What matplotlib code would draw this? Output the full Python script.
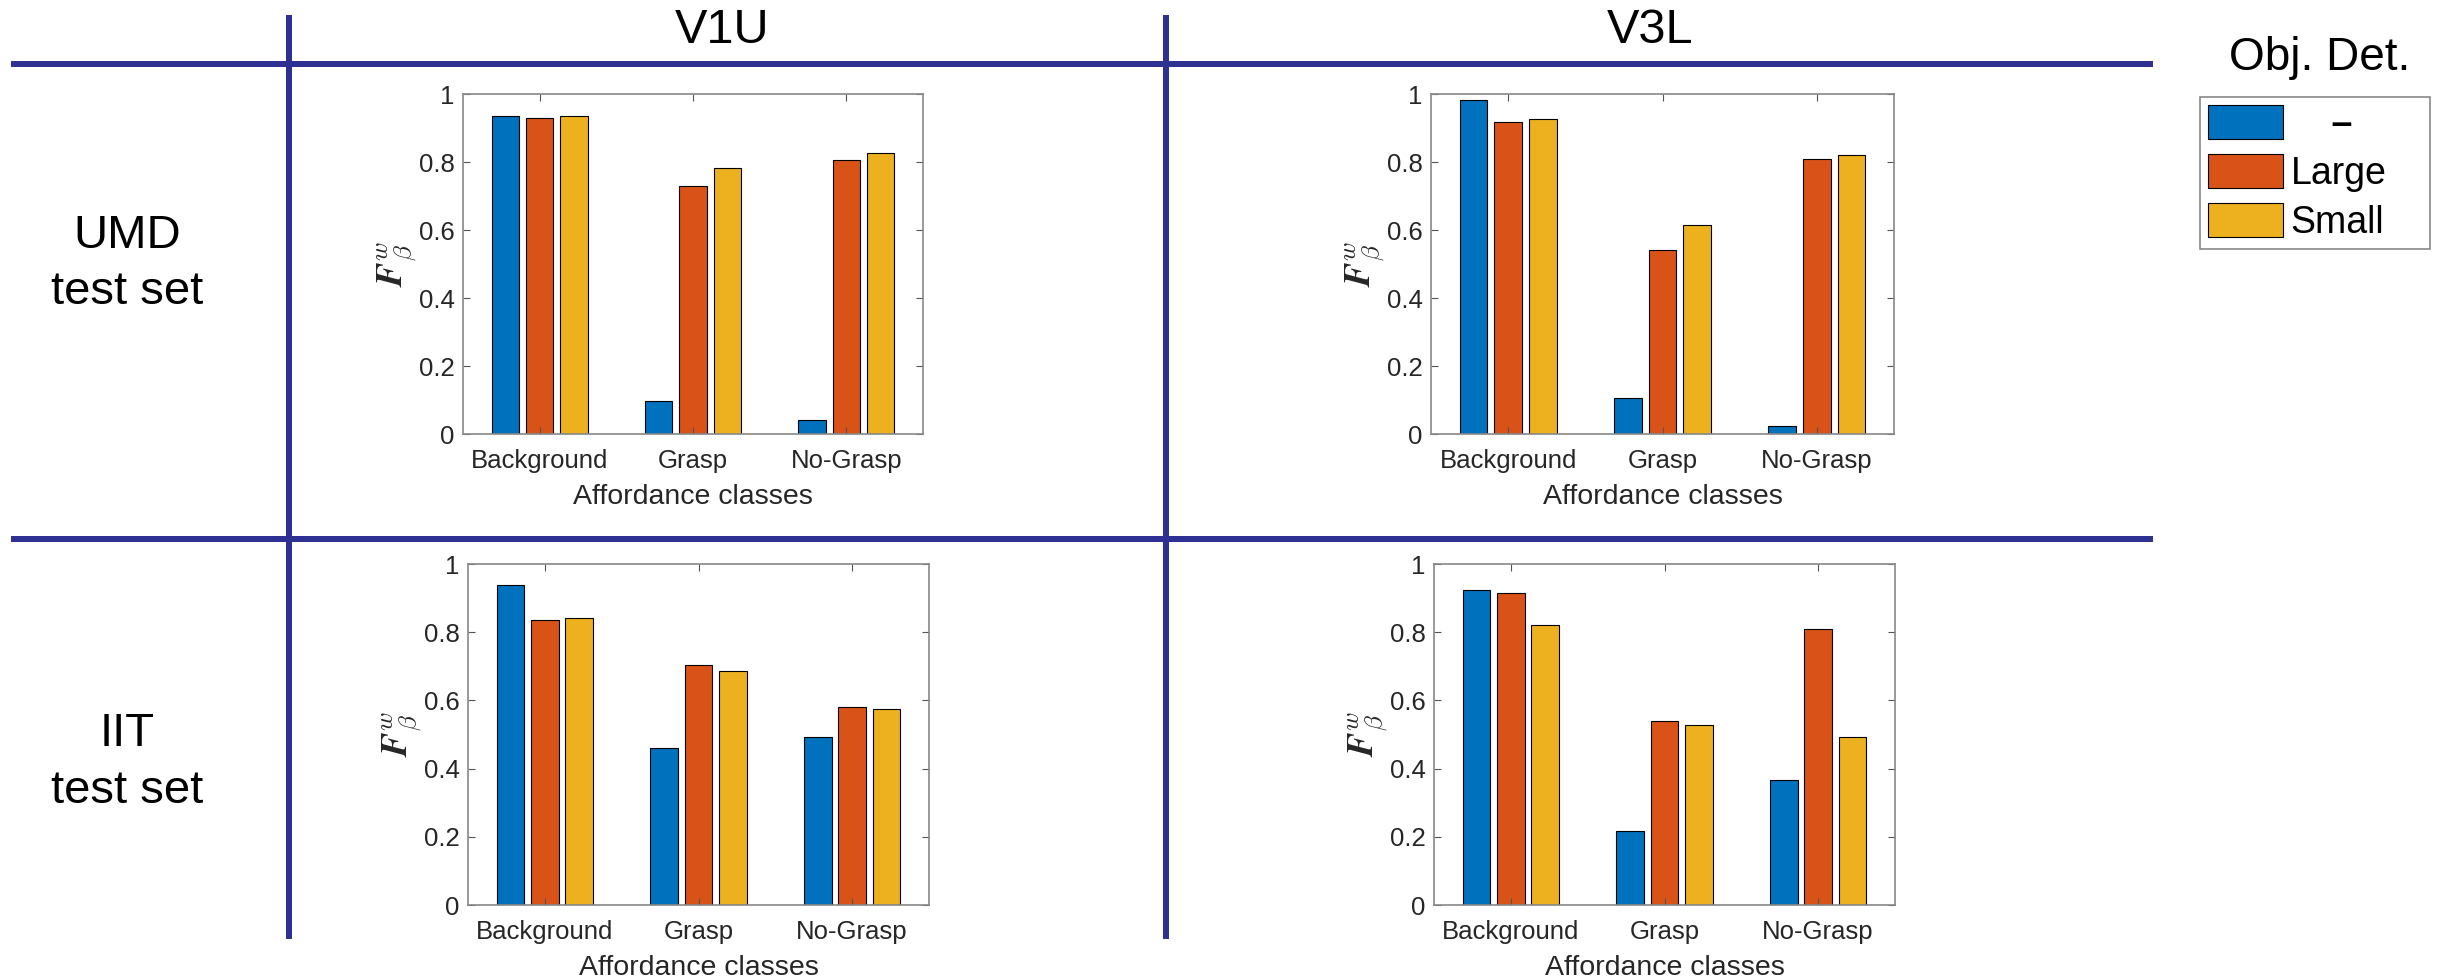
import matplotlib
matplotlib.use('Agg')
import matplotlib.pyplot as plt
from matplotlib.lines import Line2D
import numpy as np

plt.rcParams['font.family'] = ['Liberation Sans', 'DejaVu Sans']
plt.rcParams['mathtext.fontset'] = 'cm'

classes = ['Background', 'Grasp', 'No-Grasp']
detectors = ['–', 'Large', 'Small']
columns = ['V1U', 'V3L']
rows = ['UMD', 'IIT']

# F_beta^w per class, for each detector setting
v1u_umd_none = [0.936, 0.096, 0.042]
v1u_umd_large = [0.928, 0.728, 0.807]
v1u_umd_small = [0.936, 0.782, 0.825]

v3l_umd_none = [0.982, 0.106, 0.023]
v3l_umd_large = [0.917, 0.540, 0.809]
v3l_umd_small = [0.926, 0.614, 0.820]

v1u_iit_none = [0.937, 0.461, 0.492]
v1u_iit_large = [0.836, 0.705, 0.580]
v1u_iit_small = [0.841, 0.686, 0.574]

v3l_iit_none = [0.923, 0.216, 0.366]
v3l_iit_large = [0.915, 0.540, 0.808]
v3l_iit_small = [0.821, 0.527, 0.492]

panels = {
    ('UMD', 'V1U'): [v1u_umd_none, v1u_umd_large, v1u_umd_small],
    ('UMD', 'V3L'): [v3l_umd_none, v3l_umd_large, v3l_umd_small],
    ('IIT', 'V1U'): [v1u_iit_none, v1u_iit_large, v1u_iit_small],
    ('IIT', 'V3L'): [v3l_iit_none, v3l_iit_large, v3l_iit_small],
}

colors = ['#0072BD', '#D95319', '#EDB120']
grid_color = '#2E3192'
W, H = 2440, 980

fig = plt.figure(figsize=(W / 100, H / 100), dpi=100)


def px_box(left, top, right, bottom):
    return [left / W, 1 - bottom / H, (right - left) / W, (bottom - top) / H]


boxes = {
    ('UMD', 'V1U'): px_box(463, 94, 923, 434),
    ('UMD', 'V3L'): px_box(1431, 94, 1894, 434),
    ('IIT', 'V1U'): px_box(468, 564, 929, 905),
    ('IIT', 'V3L'): px_box(1434, 564, 1895, 905),
}

x = np.arange(1, len(classes) + 1)
offset = 0.224
width = 0.18
bars = None

for key, series in panels.items():
    ax = fig.add_axes(boxes[key])
    bars = []
    for i, vals in enumerate(series):
        b = ax.bar(x + (i - 1) * offset, vals, width, color=colors[i],
                   edgecolor='black', linewidth=0.8, label=detectors[i])
        bars.append(b)
    ax.set_xlim(0.5, 3.5)
    ax.set_ylim(0, 1)
    ax.set_xticks(x)
    ax.set_xticklabels(classes)
    ax.set_yticks([0, 0.2, 0.4, 0.6, 0.8, 1])
    ax.set_yticklabels(['0', '0.2', '0.4', '0.6', '0.8', '1'])
    ax.tick_params(direction='in', top=True, right=True, length=5,
                   width=0.8, color='#555555', labelsize=18.5,
                   labelcolor='#262626')
    ax.tick_params(axis='x', pad=11)
    ax.tick_params(axis='y', pad=6)
    for s in ax.spines.values():
        s.set_color('#888888')
        s.set_linewidth(1.2)
    ax.set_xlabel('Affordance classes', fontsize=20.5, color='#262626', labelpad=8)
    ax.set_ylabel(r'$\mathbfit{F}^{w}_{\beta}$', fontsize=26, color='#262626',
                  labelpad=0)

# table grid lines
lw = 6 * 72 / 100
for y in [64, 539]:
    fig.add_artist(Line2D([11 / W, 2153 / W], [1 - y / H, 1 - y / H],
                          color=grid_color, lw=lw, solid_capstyle='butt'))
for xv in [289, 1166]:
    fig.add_artist(Line2D([xv / W, xv / W], [1 - 15 / H, 1 - 939 / H],
                          color=grid_color, lw=lw, solid_capstyle='butt'))

# column and row headers
fig.text(722 / W, 1 - 43 / H, columns[0], fontsize=35, ha='center', va='baseline')
fig.text(1650 / W, 1 - 43 / H, columns[1], fontsize=35, ha='center', va='baseline')
fig.text(127 / W, 1 - 248 / H, rows[0], fontsize=34, ha='center', va='baseline')
fig.text(127 / W, 1 - 304 / H, 'test set', fontsize=34, ha='center', va='baseline')
fig.text(127 / W, 1 - 746 / H, rows[1], fontsize=34, ha='center', va='baseline')
fig.text(127 / W, 1 - 803 / H, 'test set', fontsize=34, ha='center', va='baseline')

# legend
fig.text(2320 / W, 1 - 70 / H, 'Obj. Det.', fontsize=33, ha='center', va='baseline')
leg_labels = ['    ' + detectors[0], detectors[1], detectors[2]]
leg = fig.legend(bars, leg_labels, loc='upper left',
                 bbox_to_anchor=(2200 / W, 1 - 248 / H, 230 / W, 151 / H),
                 mode='expand', fontsize=27, handlelength=2.0, handleheight=1.0,
                 handletextpad=0.19, labelspacing=0.3, borderpad=0.22,
                 borderaxespad=0, fancybox=False, framealpha=1,
                 edgecolor='#888888')
leg.get_frame().set_linewidth(1.2)
leg.get_texts()[0].set_fontweight('bold')

fig.savefig('out.png', dpi=100)
